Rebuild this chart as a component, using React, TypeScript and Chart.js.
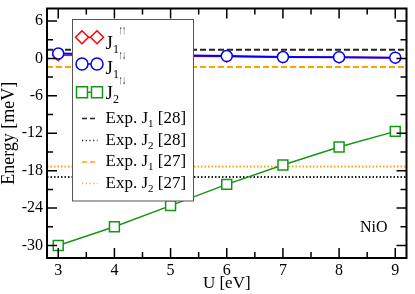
import React, { useEffect, useRef } from 'react';
import { Chart, registerables } from 'chart.js';

Chart.register(...registerables);

// ---- data ----
const uValues = [3, 4, 5, 6, 7, 8, 9];
const j1UpUp = [0.5, 0.42, 0.36, 0.32, 0.2, 0.18, 0.1];
const j1UpDown = [0.78, 0.62, 0.5, 0.38, 0.22, 0.2, 0.12];
const j2UpDown = [-30, -27, -23.6, -20.2, -17.1, -14.2, -11.7];
const expJ1Ref28 = 1.39;
const expJ2Ref28 = -19.01;
const expJ1Ref27 = -1.37;
const expJ2Ref27 = -17.32;
const xTicks = [3, 4, 5, 6, 7, 8, 9];
const yTicks = [-30, -24, -18, -12, -6, 0, 6];
const xMinorStep = 0.5;
const yMinorStep = 3;
const xMin = 2.8;
const xMax = 9.2;
const yMin = -32;
const yMax = 8;
const xTitle = 'U [eV]';
const yTitle = 'Energy [meV]';
const panelLabel = 'NiO';
const seriesLegend = [
  { main: 'J', sub: '1', sup: '↑↑' },
  { main: 'J', sub: '1', sup: '↑↓' },
  { main: 'J', sub: '2', sup: '↑↓' },
];
const expLegend = [
  { pre: 'Exp. J', sub: '1', post: ' [28]' },
  { pre: 'Exp. J', sub: '2', post: ' [28]' },
  { pre: 'Exp. J', sub: '1', post: ' [27]' },
  { pre: 'Exp. J', sub: '2', post: ' [27]' },
];

const SERIF = "'Liberation Serif', 'Times New Roman', serif";
const RED = 'rgb(255,0,0)';
const BLUE = 'rgb(0,0,255)';
const GREEN = 'rgb(20,150,20)';
const ORANGE = 'rgb(255,165,0)';

function drawMarker(ctx: CanvasRenderingContext2D, style: string, x: number, y: number, color: string) {
  ctx.save();
  ctx.fillStyle = '#fff';
  ctx.strokeStyle = color;
  ctx.lineWidth = 1.5;
  ctx.setLineDash([]);
  ctx.beginPath();
  if (style === 'circle') ctx.arc(x, y, 6, 0, Math.PI * 2);
  else if (style === 'rect') ctx.rect(x - 5.5, y - 5.5, 11, 11);
  else {
    ctx.moveTo(x - 6.5, y);
    ctx.lineTo(x, y - 6.5);
    ctx.lineTo(x + 6.5, y);
    ctx.lineTo(x, y + 6.5);
    ctx.closePath();
  }
  ctx.fill();
  ctx.stroke();
  ctx.restore();
}

function drawParts(ctx: CanvasRenderingContext2D, parts: { t: string; size: number; dy: number; sx?: number }[], x: number, baseline: number) {
  let cx = x;
  ctx.fillStyle = '#000';
  ctx.textBaseline = 'alphabetic';
  ctx.textAlign = 'left';
  for (const p of parts) {
    const sx = p.sx ?? 1;
    ctx.font = `${p.size}px ${SERIF}`;
    ctx.save();
    ctx.translate(cx, baseline + p.dy);
    ctx.scale(sx, 1);
    ctx.fillText(p.t, 0, 0);
    ctx.restore();
    cx += ctx.measureText(p.t).width * sx;
  }
}

const decorPlugin = {
  id: 'decor',
  afterDatasetsDraw(chart: any) {
    const ctx: CanvasRenderingContext2D = chart.ctx;
    ctx.save();
    const bx = 72.5, by = 19.5, bw = 121, bh = 181.5;
    ctx.fillStyle = '#fff';
    ctx.fillRect(bx, by, bw, bh);
    ctx.strokeStyle = '#555';
    ctx.lineWidth = 1;
    ctx.strokeRect(bx, by, bw, bh);

    const seriesStyles = [
      { style: 'rectRot', color: RED, y: 37.3, base: 48.5 },
      { style: 'circle', color: BLUE, y: 64, base: 73.5 },
      { style: 'rect', color: GREEN, y: 92.3, base: 99 },
    ];
    seriesLegend.forEach((item, i) => {
      const s = seriesStyles[i];
      ctx.save();
      ctx.strokeStyle = s.color;
      ctx.lineWidth = 1.5;
      ctx.beginPath();
      ctx.moveTo(82, s.y);
      ctx.lineTo(97, s.y);
      ctx.stroke();
      ctx.restore();
      drawMarker(ctx, s.style, 82, s.y, s.color);
      drawMarker(ctx, s.style, 97, s.y, s.color);
      drawParts(ctx, [
        { t: item.main, size: 19, dy: 0 },
        { t: item.sub, size: 12, dy: 4 },
        { t: item.sup, size: 12.5, dy: -15, sx: 0.55 },
      ], 105.5, s.base);
    });

    const expStyles = [
      { color: '#222', dash: [5, 3], base: 122.5 },
      { color: '#222', dash: [1.2, 2.5], base: 144.5 },
      { color: ORANGE, dash: [5, 3], base: 166 },
      { color: ORANGE, dash: [1.2, 2.5], base: 187.5 },
    ];
    expLegend.forEach((item, i) => {
      const s = expStyles[i];
      ctx.save();
      ctx.strokeStyle = s.color;
      ctx.lineWidth = 1.5;
      ctx.setLineDash(s.dash);
      ctx.beginPath();
      ctx.moveTo(82, s.base - 4);
      ctx.lineTo(97.5, s.base - 4);
      ctx.stroke();
      ctx.restore();
      drawParts(ctx, [
        { t: item.pre, size: 17, dy: 0 },
        { t: item.sub, size: 11, dy: 4 },
        { t: item.post, size: 17, dy: 0 },
      ], 105.5, s.base);
    });
    ctx.restore();
  },
  afterDraw(chart: any) {
    const ctx: CanvasRenderingContext2D = chart.ctx;
    const { left, right, top, bottom } = chart.chartArea;
    const xs = chart.scales.x;
    const ys = chart.scales.y;
    ctx.save();
    ctx.strokeStyle = '#000';
    ctx.setLineDash([]);
    ctx.lineWidth = 1.5;
    ctx.beginPath();
    for (let v = Math.ceil(xMin / xMinorStep) * xMinorStep; v <= xMax + 1e-9; v += xMinorStep) {
      const px = xs.getPixelForValue(v);
      const major = xTicks.some((t) => Math.abs(t - v) < 1e-6);
      const len = major ? 10 : 6;
      ctx.moveTo(px, bottom);
      ctx.lineTo(px, bottom - len);
      ctx.moveTo(px, top);
      ctx.lineTo(px, top + len);
    }
    for (let v = Math.ceil(yMin / yMinorStep) * yMinorStep; v <= yMax + 1e-9; v += yMinorStep) {
      const py = ys.getPixelForValue(v);
      const major = yTicks.some((t) => Math.abs(t - v) < 1e-6);
      const len = major ? 10 : 6;
      ctx.moveTo(left, py);
      ctx.lineTo(left + len, py);
      ctx.moveTo(right, py);
      ctx.lineTo(right - len, py);
    }
    ctx.stroke();
    ctx.lineWidth = 2;
    ctx.strokeRect(left, top, right - left, bottom - top);
    ctx.fillStyle = '#000';
    ctx.font = `16px ${SERIF}`;
    ctx.textAlign = 'left';
    ctx.textBaseline = 'alphabetic';
    ctx.fillText(panelLabel, 360, 232);
    ctx.restore();
  },
};

export default function App() {
  const canvasRef = useRef<HTMLCanvasElement | null>(null);

  useEffect(() => {
    document.body.style.margin = '0';
    const canvas = canvasRef.current;
    if (!canvas) return;
    const pts = (ys: number[]) => uValues.map((u, i) => ({ x: u, y: ys[i] }));
    const hline = (v: number) => [{ x: xMin, y: v }, { x: xMax, y: v }];

    const chart = new Chart(canvas, {
      type: 'line',
      data: {
        datasets: [
          { label: 'J1 uu', data: pts(j1UpUp), borderColor: RED, backgroundColor: '#fff', borderWidth: 1.5, pointStyle: 'rectRot', pointRadius: 5.5, pointBorderWidth: 1.5, pointBorderColor: RED, pointBackgroundColor: '#fff', order: 2 },
          { label: 'J1 ud', data: pts(j1UpDown), borderColor: BLUE, backgroundColor: '#fff', borderWidth: 2, pointStyle: 'circle', pointRadius: 5.5, pointBorderWidth: 1.5, pointBorderColor: BLUE, pointBackgroundColor: '#fff', order: 1 },
          { label: 'J2 ud', data: pts(j2UpDown), borderColor: GREEN, backgroundColor: '#fff', borderWidth: 1.5, pointStyle: 'rect', pointRadius: 7, pointBorderWidth: 1.5, pointBorderColor: GREEN, pointBackgroundColor: '#fff', order: 3 },
          { label: 'Exp J1 28', data: hline(expJ1Ref28), borderColor: '#222', borderWidth: 2, borderDash: [6, 3], pointRadius: 0, order: 10 },
          { label: 'Exp J2 28', data: hline(expJ2Ref28), borderColor: '#222', borderWidth: 2, borderDash: [1.5, 2], pointRadius: 0, order: 10 },
          { label: 'Exp J1 27', data: hline(expJ1Ref27), borderColor: ORANGE, borderWidth: 2, borderDash: [6, 3], pointRadius: 0, order: 10 },
          { label: 'Exp J2 27', data: hline(expJ2Ref27), borderColor: ORANGE, borderWidth: 2, borderDash: [1.5, 2], pointRadius: 0, order: 10 },
        ],
      },
      options: {
        responsive: false,
        animation: false,
        events: [],
        layout: { padding: { left: 0, top: 2, right: 2, bottom: 0 } },
        plugins: { legend: { display: false }, tooltip: { enabled: false } },
        scales: {
          x: {
            type: 'linear',
            min: xMin,
            max: xMax,
            grid: { display: false, drawTicks: false },
            border: { display: false },
            afterBuildTicks: (s: any) => { s.ticks = xTicks.map((v) => ({ value: v })); },
            afterFit: (s: any) => { s.height = 36; s.paddingLeft = 0; s.paddingRight = 0; },
            ticks: { color: '#000', font: { family: SERIF, size: 16 }, padding: 3, maxRotation: 0, autoSkip: false },
            title: { display: true, text: xTitle, color: '#000', font: { family: SERIF, size: 17, lineHeight: 1.2 }, padding: 0 },
          },
          y: {
            type: 'linear',
            min: yMin,
            max: yMax,
            grid: { display: false, drawTicks: false },
            border: { display: false },
            afterBuildTicks: (s: any) => { s.ticks = yTicks.map((v) => ({ value: v })); },
            afterFit: (s: any) => { s.width = 47; s.paddingTop = 0; s.paddingBottom = 0; },
            ticks: { color: '#000', font: { family: SERIF, size: 16 }, padding: 4, autoSkip: false },
            title: { display: true, text: yTitle, color: '#000', font: { family: SERIF, size: 18, lineHeight: 1 }, padding: 0 },
          },
        },
      },
      plugins: [decorPlugin],
    } as any);
    return () => chart.destroy();
  }, []);

  return <canvas ref={canvasRef} width={415} height={294} style={{ display: 'block' }} />;
}
